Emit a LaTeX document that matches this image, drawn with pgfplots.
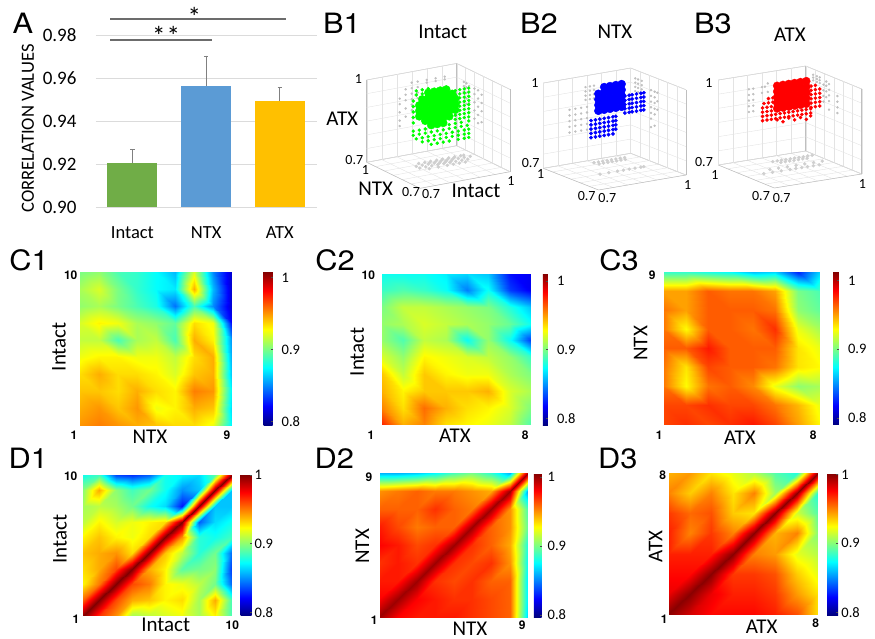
\documentclass[border=0pt]{standalone}
\usepackage{fontspec}
\setmainfont{Carlito}
\newfontfamily\hel{TeX Gyre Heros}
\usepackage{pgfplots}
\pgfplotsset{compat=1.18}
\definecolor{bgreen}{HTML}{70AD47}
\definecolor{bblue}{HTML}{5B9BD5}
\definecolor{byellow}{HTML}{FFC000}
\newcommand{\fs}[1]{\fontsize{#1}{#1}\selectfont}
\newcommand{\PL}[3]{\node[inner sep=0pt,font=\hel\fs{28},xscale=1.1] at (#1pt,-#2pt) {#3};}
\newcommand{\BT}[3]{\node[inner sep=0pt,font=\hel\bfseries\fs{12}] at (#1pt,-#2pt) {#3};}
\newcommand{\LX}[3]{\node[inner sep=0pt,font=\fs{21}] at (#1pt,-#2pt) {#3};}
\newcommand{\LY}[3]{\node[inner sep=0pt,font=\fs{21},rotate=90] at (#1pt,-#2pt) {#3};}
\newcommand{\TK}[3]{\node[inner sep=0pt,font=\fs{14}] at (#1pt,-#2pt) {#3};}
\pgfplotsset{
 box3d/.style={xmin=.7,xmax=1,ymin=.7,ymax=1,zmin=.7,zmax=1,clip=false,
  xtick={.7,.75,.8,.85,.9,.95,1},ytick={.7,.75,.8,.85,.9,.95,1},ztick={.7,.75,.8,.85,.9,.95,1},
  xticklabel=\empty,yticklabel=\empty,zticklabel=\empty,grid=major,
  grid style={gray!22,line width=.4pt},tick style={draw=none},axis line style={gray!50,line width=.5pt}},
 gm/.style={only marks,mark=*,mark size=1pt,color=gray!50,mark options={draw=none}},
 gf/.style={only marks,mark=*,mark size=1.5pt,color=gray!38,mark options={draw=none}},
 hm/.style={scale only axis,view={0}{90},xtick=\empty,ytick=\empty,ztick=\empty,
  axis line style={draw=none},colormap/jet,colorbar,enlargelimits=false},
 cb/.style n args={4}{colorbar style={at={(parent axis.north east)},anchor=north west,xshift=#1pt,width=#2pt,height=#3pt,
  ytick={.8,.9,1},yticklabels={0.8,0.9,1},ytick pos=right,axis line style={draw=none},
  major tick length=2pt,tick style={black!70,line width=.3pt},
  yticklabel style={font=\fs{14.5},inner xsep=0pt,xshift=#4pt}}},
}
\begin{document}
\begin{tikzpicture}
\path (0pt,0pt) rectangle (875pt,-638pt);
% ---------- A
\begin{axis}[at={(96pt,-207pt)},anchor=south west,scale only axis,width=221pt,height=171.7pt,
 xmin=-.494,xmax=2.505,ymin=.9,ymax=.98,clip=false,ymajorgrids,grid style={gray!28,line width=.7pt},
 axis line style={draw=none},tick style={draw=none},ytick={.90,.92,.94,.96,.98},xtick={0,1,2},
 xticklabels={Intact,NTX,ATX},
 xticklabel style={font=\fs{18.5},yshift=-12pt},xtick pos=bottom,
 yticklabel style={font=\fs{19},xshift=-16pt,/pgf/number format/fixed,/pgf/number format/fixed zerofill,/pgf/number format/precision=2,/pgf/number format/assume math mode=true},
 ylabel={CORRELATION VALUES},ylabel style={at={(axis description cs:-.308,.458)},anchor=center,font=\fs{18.6}},
 ybar,bar width=50pt,bar shift=0pt]
\addplot[fill=bgreen,draw=none,error bars/.cd,y dir=plus,y explicit,error bar style={gray,line width=.8pt},error mark options={rotate=90,gray,mark size=2.2pt}] coordinates {(0,.9205) +- (0,.0065)};
\addplot[fill=bblue,draw=none,error bars/.cd,y dir=plus,y explicit,error bar style={gray,line width=.8pt},error mark options={rotate=90,gray,mark size=2.2pt}] coordinates {(1,.9565) +- (0,.014)};
\addplot[fill=byellow,draw=none,error bars/.cd,y dir=plus,y explicit,error bar style={gray,line width=.8pt},error mark options={rotate=90,gray,mark size=2.2pt}] coordinates {(2,.9495) +- (0,.0063)};
\addplot[sharp plot,gray!85!black,line width=1.3pt,forget plot] coordinates {(-.304,.9778)(1.08,.9778)};
\addplot[sharp plot,gray!85!black,line width=1.3pt,forget plot] coordinates {(-.304,.9876)(2.083,.9876)};
\end{axis}
\node[inner sep=0pt,font=\fs{27}] at (194.3pt,-17pt) {*};
\node[inner sep=0pt,font=\fs{27}] at (166pt,-36pt) {*\kern1pt*};
\PL{23}{23}{A}
% ---------- B1
\begin{axis}[box3d,at={(366.7pt,-188.3pt)},anchor=south west,x={(300pt,55.3pt)},y={(-177.7pt,86.7pt)},z={(0pt,274.3pt)}]
\addplot3[gf] coordinates {
(.80,.89,.7)(.82,.89,.7)(.84,.89,.7)(.86,.89,.7)(.88,.89,.7)(.90,.89,.7)(.92,.89,.7)(.94,.89,.7)(.96,.89,.7)(.98,.89,.7)
(.82,.91,.7)(.84,.91,.7)(.86,.91,.7)(.88,.91,.7)(.90,.91,.7)(.92,.91,.7)(.94,.91,.7)(.96,.91,.7)(.97,.91,.7)
(.80,.87,.7)(.82,.87,.7)(.84,.87,.7)(.86,.87,.7)(.88,.87,.7)(.90,.87,.7)(.92,.87,.7)(.94,.87,.7)(.96,.87,.7)
(.82,.85,.7)(.85,.85,.7)(.88,.85,.7)(.90,.85,.7)(.92,.85,.7)(.94,.85,.7)
(.87,.90,.7)(.89,.90,.7)(.91,.90,.7)(.85,.90,.7)(.93,.90,.7)(.87,.88,.7)(.89,.88,.7)(.91,.88,.7)
};
\addplot3[gm] coordinates {
(.81,1,.81)(.81,1,.83)(.81,1,.86)(.81,1,.89)(.81,1,.91)(.83,1,.84)(.83,1,.87)(.83,1,.90)(.83,1,.92)(.83,1,.94)
(.85,1,.86)(.85,1,.88)(.85,1,.90)(.85,1,.92)(.85,1,.94)(.85,1,.96)(.87,1,.90)(.87,1,.92)(.87,1,.94)(.87,1,.96)
(.90,1,.95)(.90,1,.96)(.93,1,.95)(.93,1,.96)(.96,1,.95)(.96,1,.96)
(1,.96,.87)(1,.96,.89)(1,.96,.91)(1,.96,.93)(1,.96,.945)(1,.945,.87)(1,.945,.89)(1,.945,.91)(1,.945,.93)(1,.945,.945)
(1,.93,.88)(1,.93,.90)(1,.93,.92)(1,.93,.94)(1,.90,.83)(1,.90,.86)(1,.90,.89)(1,.90,.92)(1,.90,.94)
(1,.88,.82)(1,.88,.85)(1,.88,.88)(1,.88,.91)(1,.88,.94)(1,.86,.83)(1,.86,.87)(1,.86,.90)(1,.86,.93)
};
\addplot3[only marks,mark=*,mark size=4pt,color=green,mark options={draw=none}] coordinates {
(.84,.89,.96)(.86,.89,.96)(.88,.89,.96)(.90,.89,.96)
(.82,.89,.94)(.84,.89,.94)(.86,.89,.94)(.88,.89,.94)(.90,.89,.94)(.92,.89,.94)
(.81,.89,.92)(.83,.89,.92)(.85,.89,.92)(.87,.89,.92)(.89,.89,.92)(.91,.89,.92)(.93,.89,.92)
(.81,.89,.90)(.83,.89,.90)(.85,.89,.90)(.87,.89,.90)(.89,.89,.90)(.91,.89,.90)(.93,.89,.90)
(.81,.89,.88)(.83,.89,.88)(.85,.89,.88)(.87,.89,.88)(.89,.89,.88)(.91,.89,.88)(.93,.89,.88)
(.83,.89,.86)(.85,.89,.86)(.87,.89,.86)(.89,.89,.86)(.91,.89,.86)
(.85,.89,.84)(.87,.89,.84)(.89,.89,.84)
};
\addplot3[only marks,mark=*,mark size=1.5pt,color=green,mark options={draw=none}] coordinates {
(.85,.89,.77)(.87,.89,.77)(.89,.89,.77)(.91,.89,.77)(.94,.89,.77)(.96,.89,.77)(.975,.89,.77)
(.82,.89,.785)(.84,.89,.785)(.86,.89,.785)(.88,.89,.785)(.90,.89,.785)(.92,.89,.785)(.94,.89,.785)(.96,.89,.785)(.975,.89,.785)
(.80,.89,.80)(.82,.89,.80)(.84,.89,.80)(.86,.89,.80)(.88,.89,.80)(.90,.89,.80)(.92,.89,.80)(.94,.89,.80)(.96,.89,.80)(.975,.89,.80)
(.79,.89,.815)(.81,.89,.815)(.83,.89,.815)(.85,.89,.815)(.87,.89,.815)(.89,.89,.815)(.91,.89,.815)(.93,.89,.815)(.95,.89,.815)(.97,.89,.815)
(.79,.89,.83)(.81,.89,.83)(.83,.89,.83)(.91,.89,.83)(.93,.89,.83)(.95,.89,.83)(.975,.89,.83)
(.93,.89,.845)(.945,.89,.845)(.96,.89,.845)(.975,.89,.845)(.93,.89,.86)(.945,.89,.86)(.96,.89,.86)(.975,.89,.86)
(.945,.89,.875)(.96,.89,.875)(.975,.89,.875)(.945,.89,.89)(.96,.89,.89)(.975,.89,.89)
(.945,.89,.905)(.96,.89,.905)(.975,.89,.905)(.945,.89,.92)(.96,.89,.92)(.975,.89,.92)
(.93,.89,.935)(.945,.89,.935)(.96,.89,.935)(.975,.89,.935)(.93,.89,.95)(.945,.89,.95)(.96,.89,.95)(.975,.89,.95)
(.80,.89,.96)(.82,.89,.96)(.80,.89,.975)(.82,.89,.975)(.84,.89,.975)
(.79,.89,.86)(.79,.89,.88)(.79,.89,.90)(.79,.89,.92)(.79,.89,.94)
};
\end{axis}
% ---------- B2
\begin{axis}[box3d,at={(543.3pt,-190pt)},anchor=south west,x={(291.3pt,50pt)},y={(-184.3pt,72.3pt)},z={(0pt,284.3pt)}]
\addplot3[gf] coordinates {
(.855,.97,.7)(.87,.97,.7)(.885,.97,.7)(.90,.97,.7)(.915,.97,.7)(.93,.97,.7)(.945,.97,.7)(.96,.97,.7)
(.86,.95,.7)(.875,.95,.7)(.89,.95,.7)(.905,.95,.7)(.92,.95,.7)(.935,.95,.7)(.95,.95,.7)
(.80,.85,.7)(.83,.85,.7)(.86,.85,.7)(.88,.85,.7)(.90,.85,.7)(.92,.85,.7)(.94,.85,.7)(.95,.85,.7)
};
\addplot3[gm] coordinates {
(.79,1,.81)(.79,1,.83)(.79,1,.85)(.79,1,.87)(.79,1,.89)(.81,1,.81)(.81,1,.83)(.81,1,.85)(.81,1,.87)(.81,1,.89)
(.83,1,.81)(.83,1,.83)(.83,1,.85)(.83,1,.87)(.83,1,.89)(.85,1,.81)(.85,1,.83)(.85,1,.85)(.85,1,.87)(.85,1,.89)
(.845,1,.915)(.845,1,.93)(.845,1,.945)(.845,1,.96)(.86,1,.915)(.86,1,.93)(.86,1,.945)(.86,1,.96)(.874,1,.915)(.874,1,.93)(.874,1,.945)(.874,1,.96)
(1,.975,.925)(1,.975,.94)(1,.975,.955)(1,.975,.97)(1,.96,.925)(1,.96,.94)(1,.96,.955)(1,.96,.97)(1,.94,.925)(1,.94,.94)(1,.94,.955)(1,.94,.97)
(1,.89,.82)(1,.89,.85)(1,.89,.87)(1,.89,.89)(1,.89,.91)(1,.89,.93)(1,.89,.95)(1,.87,.83)(1,.87,.87)(1,.87,.89)(1,.87,.91)(1,.87,.93)(1,.87,.95)(1,.855,.89)(1,.855,.92)(1,.855,.95)
};
\addplot3[only marks,mark=*,mark size=4pt,color=blue,mark options={draw=none}] coordinates {
(.89,.97,.96)(.91,.97,.96)(.93,.97,.96)(.95,.97,.96)
(.87,.97,.94)(.89,.97,.94)(.91,.97,.94)(.93,.97,.94)(.95,.97,.94)
(.87,.97,.92)(.89,.97,.92)(.91,.97,.92)(.93,.97,.92)(.95,.97,.92)
(.87,.97,.90)(.89,.97,.90)(.91,.97,.90)(.93,.97,.90)(.95,.97,.90)
(.87,.97,.88)(.89,.97,.88)(.91,.97,.88)(.93,.97,.88)(.95,.97,.88)
};
\addplot3[only marks,mark=*,mark size=1.7pt,color=blue,mark options={draw=none}] coordinates {
(.885,.85,.90)(.885,.85,.915)(.885,.85,.93)(.885,.85,.945)(.885,.85,.96)
(.90,.85,.90)(.91,.85,.90)(.925,.85,.90)(.94,.85,.90)(.95,.85,.90)
(.90,.85,.915)(.91,.85,.915)(.925,.85,.915)(.94,.85,.915)(.95,.85,.915)
(.90,.85,.93)(.91,.85,.93)(.925,.85,.93)(.94,.85,.93)(.95,.85,.93)
(.90,.85,.945)(.91,.85,.945)(.925,.85,.945)(.94,.85,.945)(.95,.85,.945)
(.90,.85,.96)(.91,.85,.96)(.925,.85,.96)(.94,.85,.96)(.95,.85,.96)
(.845,.97,.79)(.86,.97,.79)(.875,.97,.79)(.89,.97,.79)(.905,.97,.79)(.92,.97,.79)
(.845,.97,.805)(.86,.97,.805)(.875,.97,.805)(.89,.97,.805)(.905,.97,.805)(.92,.97,.805)(.93,.97,.805)
(.845,.97,.82)(.86,.97,.82)(.875,.97,.82)(.89,.97,.82)(.905,.97,.82)(.92,.97,.82)(.93,.97,.82)
(.845,.97,.835)(.86,.97,.835)(.875,.97,.835)(.89,.97,.835)(.905,.97,.835)(.92,.97,.835)(.93,.97,.835)
(.845,.97,.85)(.86,.97,.85)(.875,.97,.85)(.89,.97,.85)(.905,.97,.85)(.92,.97,.85)(.93,.97,.85)
};
\end{axis}
% ---------- B3
\begin{axis}[box3d,at={(718.3pt,-188pt)},anchor=south west,x={(291.3pt,46.7pt)},y={(-186.7pt,76.7pt)},z={(0pt,283.3pt)}]
\addplot3[gf] coordinates {
(.855,.95,.7)(.87,.95,.7)(.885,.95,.7)(.90,.95,.7)(.915,.95,.7)(.93,.95,.7)(.945,.95,.7)(.96,.95,.7)(.975,.95,.7)(.99,.95,.7)
(.87,.93,.7)(.885,.93,.7)(.90,.93,.7)(.915,.93,.7)(.93,.93,.7)(.945,.93,.7)(.96,.93,.7)
(.76,.85,.7)(.79,.85,.7)(.82,.85,.7)(.85,.85,.7)(.87,.85,.7)(.89,.85,.7)(.91,.85,.7)(.93,.85,.7)(.95,.85,.7)
(.80,.88,.7)(.83,.88,.7)(.86,.88,.7)(.89,.88,.7)(.92,.88,.7)(.95,.88,.7)(.98,.88,.7)
};
\addplot3[gm] coordinates {
(.805,1,.87)(.805,1,.89)(.805,1,.91)(.805,1,.93)(.805,1,.95)(.82,1,.87)(.82,1,.89)(.82,1,.91)(.82,1,.93)(.82,1,.95)
(.85,1,.93)(.85,1,.95)(.86,1,.95)(.87,1,.93)(.87,1,.96)
(1,.96,.96)(1,.96,.97)(1,.96,.98)(1,.94,.96)(1,.94,.97)(1,.94,.98)(1,.925,.96)(1,.925,.97)(1,.925,.98)
(1,.905,.90)(1,.905,.92)(1,.905,.94)(1,.905,.96)(1,.89,.92)(1,.89,.94)(1,.89,.96)(1,.89,.975)(1,.875,.88)(1,.875,.91)(1,.875,.93)(1,.875,.95)(1,.875,.97)
(1,.83,.88)(1,.83,.90)(1,.83,.92)(1,.83,.94)
};
\addplot3[only marks,mark=*,mark size=4pt,color=red,mark options={draw=none}] coordinates {
(.87,.95,.965)(.89,.95,.965)(.91,.95,.965)(.93,.95,.965)(.95,.95,.965)(.97,.95,.965)
(.87,.95,.945)(.89,.95,.945)(.91,.95,.945)(.93,.95,.945)(.95,.95,.945)(.97,.95,.945)
(.87,.95,.925)(.89,.95,.925)(.91,.95,.925)(.93,.95,.925)(.95,.95,.925)(.97,.95,.925)
(.87,.95,.905)(.89,.95,.905)(.91,.95,.905)(.93,.95,.905)(.95,.95,.905)(.97,.95,.905)
(.87,.95,.885)(.89,.95,.885)(.91,.95,.885)(.93,.95,.885)(.95,.95,.885)(.97,.95,.885)
};
\addplot3[only marks,mark=*,mark size=1.6pt,color=red,mark options={draw=none}] coordinates {
(.82,.95,.85)(.835,.95,.85)(.85,.95,.85)(.865,.95,.85)(.88,.95,.85)(.895,.95,.85)(.91,.95,.85)(.925,.95,.85)(.94,.95,.85)(.955,.95,.85)(.97,.95,.85)(.985,.95,.85)
(.82,.95,.865)(.835,.95,.865)(.85,.95,.865)(.865,.95,.865)(.88,.95,.865)(.895,.95,.865)(.91,.95,.865)(.925,.95,.865)(.94,.95,.865)(.955,.95,.865)(.97,.95,.865)(.985,.95,.865)
(.82,.95,.88)(.835,.95,.88)(.85,.95,.88)(.82,.95,.895)(.835,.95,.895)(.85,.95,.895)(.825,.95,.91)(.84,.95,.91)(.855,.95,.91)(.84,.95,.925)(.855,.95,.925)
(.87,.95,.845)(.89,.95,.835)(.91,.95,.845)(.93,.95,.835)(.95,.95,.84)(.97,.95,.83)(.985,.95,.84)
(.935,.87,.90)(.95,.87,.90)(.965,.87,.90)(.935,.87,.915)(.95,.87,.915)(.965,.87,.915)
(.935,.87,.93)(.95,.87,.93)(.965,.87,.93)(.935,.87,.945)(.95,.87,.945)(.965,.87,.945)
(.935,.87,.96)(.95,.87,.96)(.965,.87,.96)(.935,.87,.975)(.95,.87,.975)
};
\end{axis}
% texts of B
\PL{342}{23}{B1}\PL{539}{23}{B2}\PL{713}{23}{B3}
\LX{442.7}{31.7}{Intact}\LX{615}{31.7}{NTX}\LX{790}{34.3}{ATX}
\LX{342.3}{119}{ATX}\LX{375.7}{188.3}{NTX}\LX{476}{190.7}{Intact}
\TK{358.3}{79.3}{1}\TK{354.3}{160}{0.7}\TK{365.3}{170}{1}\TK{411}{191.7}{0.7}\TK{431}{194}{0.7}\TK{511}{181}{1}
\TK{535}{83.3}{1}\TK{530.7}{163.3}{0.7}\TK{540.7}{174.3}{1}\TK{586.7}{196}{0.7}\TK{607.3}{198.3}{0.7}\TK{687.7}{185}{1}
\TK{709}{83.3}{1}\TK{704}{162.5}{0.7}\TK{715}{174.5}{1}\TK{761}{196}{0.7}\TK{781.7}{198.3}{0.7}\TK{862.3}{184}{1}
% ---------- C1
\begin{axis}[hm,at={(80pt,-425pt)},anchor=south west,width=151.7pt,height=153.3pt,xmin=1,xmax=9,ymin=1,ymax=10,
 point meta min=.7945,point meta max=1.008,cb={23.3}{9}{153.7}{9}]
\addplot3[surf,shader=interp,mesh/cols=9] coordinates {
(1,1,.95)(2,1,.955)(3,1,.95)(4,1,.945)(5,1,.94)(6,1,.935)(7,1,.935)(8,1,.925)(9,1,.87)
(1,2,.945)(2,2,.95)(3,2,.94)(4,2,.95)(5,2,.925)(6,2,.93)(7,2,.945)(8,2,.94)(9,2,.865)
(1,3,.94)(2,3,.94)(3,3,.935)(4,3,.945)(5,3,.935)(6,3,.93)(7,3,.955)(8,3,.95)(9,3,.87)
(1,4,.935)(2,4,.945)(3,4,.935)(4,4,.935)(5,4,.93)(6,4,.92)(7,4,.94)(8,4,.945)(9,4,.86)
(1,5,.925)(2,5,.93)(3,5,.93)(4,5,.925)(5,5,.925)(6,5,.915)(7,5,.935)(8,5,.945)(9,5,.855)
(1,6,.915)(2,6,.915)(3,6,.89)(4,6,.91)(5,6,.915)(6,6,.89)(7,6,.945)(8,6,.93)(9,6,.85)
(1,7,.92)(2,7,.93)(3,7,.925)(4,7,.91)(5,7,.905)(6,7,.895)(7,7,.935)(8,7,.925)(9,7,.82)
(1,8,.905)(2,8,.91)(3,8,.90)(4,8,.89)(5,8,.88)(6,8,.845)(7,8,.89)(8,8,.85)(9,8,.81)
(1,9,.91)(2,9,.92)(3,9,.90)(4,9,.885)(5,9,.875)(6,9,.87)(7,9,.945)(8,9,.86)(9,9,.81)
(1,10,.90)(2,10,.905)(3,10,.89)(4,10,.885)(5,10,.875)(6,10,.86)(7,10,.92)(8,10,.85)(9,10,.81)
};
\end{axis}
% ---------- C2
\begin{axis}[hm,at={(381.7pt,-424.3pt)},anchor=south west,width=149.3pt,height=151pt,xmin=1,xmax=8,ymin=1,ymax=10,
 point meta min=.79,point meta max=1.011,cb={3.3}{5}{151.7}{9}]
\addplot3[surf,shader=interp,mesh/cols=8] coordinates {
(1,1,.975)(2,1,.945)(3,1,.955)(4,1,.935)(5,1,.93)(6,1,.925)(7,1,.915)(8,1,.89)
(1,2,.955)(2,2,.935)(3,2,.96)(4,2,.945)(5,2,.935)(6,2,.93)(7,2,.92)(8,2,.90)
(1,3,.945)(2,3,.93)(3,3,.94)(4,3,.94)(5,3,.94)(6,3,.945)(7,3,.92)(8,3,.91)
(1,4,.94)(2,4,.915)(3,4,.94)(4,4,.93)(5,4,.925)(6,4,.925)(7,4,.91)(8,4,.90)
(1,5,.92)(2,5,.905)(3,5,.93)(4,5,.925)(5,5,.92)(6,5,.915)(7,5,.905)(8,5,.885)
(1,6,.905)(2,6,.89)(3,6,.915)(4,6,.91)(5,6,.875)(6,6,.905)(7,6,.875)(8,6,.83)
(1,7,.905)(2,7,.91)(3,7,.92)(4,7,.915)(5,7,.91)(6,7,.905)(7,7,.895)(8,7,.875)
(1,8,.90)(2,8,.915)(3,8,.915)(4,8,.91)(5,8,.905)(6,8,.90)(7,8,.88)(8,8,.86)
(1,9,.885)(2,9,.89)(3,9,.885)(4,9,.875)(5,9,.845)(6,9,.875)(7,9,.83)(8,9,.815)
(1,10,.875)(2,10,.875)(3,10,.875)(4,10,.87)(5,10,.865)(6,10,.86)(7,10,.82)(8,10,.815)
};
\end{axis}
% ---------- C3
\begin{axis}[hm,at={(663.3pt,-424.3pt)},anchor=south west,width=156.7pt,height=152.6pt,xmin=1,xmax=8,ymin=1,ymax=9,
 point meta min=.79,point meta max=1.013,cb={4.7}{5.6}{153}{9}]
\addplot3[surf,shader=interp,mesh/cols=8] coordinates {
(1,1,.97)(2,1,.975)(3,1,.97)(4,1,.975)(5,1,.98)(6,1,.97)(7,1,.95)(8,1,.93)
(1,2,.97)(2,2,.97)(3,2,.975)(4,2,.97)(5,2,.97)(6,2,.96)(7,2,.945)(8,2,.925)
(1,3,.96)(2,3,.93)(3,3,.96)(4,3,.965)(5,3,.955)(6,3,.925)(7,3,.905)(8,3,.91)
(1,4,.96)(2,4,.935)(3,4,.97)(4,4,.965)(5,4,.965)(6,4,.96)(7,4,.935)(8,4,.93)
(1,5,.965)(2,5,.965)(3,5,.98)(4,5,.965)(5,5,.965)(6,5,.965)(7,5,.935)(8,5,.925)
(1,6,.96)(2,6,.93)(3,6,.965)(4,6,.965)(5,6,.96)(6,6,.975)(7,6,.925)(8,6,.91)
(1,7,.96)(2,7,.95)(3,7,.965)(4,7,.965)(5,7,.965)(6,7,.96)(7,7,.905)(8,7,.895)
(1,8,.95)(2,8,.95)(3,8,.965)(4,8,.96)(5,8,.96)(6,8,.95)(7,8,.90)(8,8,.89)
(1,9,.885)(2,9,.885)(3,9,.88)(4,9,.875)(5,9,.86)(6,9,.865)(7,9,.825)(8,9,.865)
};
\end{axis}
\PL{29}{260}{C1}\PL{335}{260}{C2}\PL{619}{260}{C3}
\LY{59}{346.7}{Intact}\LX{150}{436.7}{NTX}\BT{70.7}{275}{10}\BT{74}{435}{1}\BT{227}{435}{9}
\LY{357.3}{351.7}{Intact}\LX{455}{436}{ATX}\BT{368.3}{275}{10}\BT{371}{435}{1}\BT{525.3}{435}{8}
\LY{640.7}{343.3}{NTX}\LX{740}{437.7}{ATX}\BT{652.3}{275}{9}\BT{659.3}{435}{1}\BT{813.3}{435}{8}
% ---------- D1
\begin{axis}[hm,at={(82.7pt,-615.7pt)},anchor=south west,width=149pt,height=141pt,xmin=1,xmax=10,ymin=1,ymax=10,
 point meta min=.795,point meta max=1.0,cb={0.3}{11}{141}{3}]
\addplot3[surf,shader=interp,mesh/cols=10] coordinates {
(10,1,.885)(9,1,.925)(8,1,.905)(7,1,.92)(6,1,.915)(5,1,.91)(4,1,.905)(3,1,.945)(2,1,.965)(1,1,1)
(10,2,.885)(9,2,.94)(8,2,.905)(7,2,.93)(6,2,.925)(5,2,.935)(4,2,.94)(3,2,.96)(2,2,1)(1,2,.955)
(10,3,.84)(9,3,.895)(8,3,.91)(7,3,.92)(6,3,.925)(5,3,.95)(4,3,.96)(3,3,1)(2,3,.95)(1,3,.925)
(10,4,.83)(9,4,.90)(8,4,.895)(7,4,.89)(6,4,.925)(5,4,.94)(4,4,1)(3,4,.96)(2,4,.94)(1,4,.93)
(10,5,.84)(9,5,.895)(8,5,.88)(7,5,.91)(6,5,.935)(5,5,1)(4,5,.93)(3,5,.945)(2,5,.94)(1,5,.935)
(10,6,.885)(9,6,.875)(8,6,.88)(7,6,.945)(6,6,1)(5,6,.93)(4,6,.92)(3,6,.925)(2,6,.935)(1,6,.925)
(10,7,.875)(9,7,.865)(8,7,.84)(7,7,1)(6,7,.93)(5,7,.925)(4,7,.92)(3,7,.915)(2,7,.925)(1,7,.91)
(10,8,.86)(9,8,.86)(8,8,1)(7,8,.825)(6,8,.865)(5,8,.875)(4,8,.895)(3,8,.905)(2,8,.91)(1,8,.905)
(10,9,.86)(9,9,1)(8,9,.86)(7,9,.85)(6,9,.875)(5,9,.895)(4,9,.885)(3,9,.90)(2,9,.94)(1,9,.90)
(10,10,1)(9,10,.89)(8,10,.865)(7,10,.87)(6,10,.875)(5,10,.84)(4,10,.83)(3,10,.835)(2,10,.885)(1,10,.875)
};
\end{axis}
% ---------- D2
\begin{axis}[hm,at={(379.3pt,-617pt)},anchor=south west,width=149pt,height=144pt,xmin=1,xmax=9,ymin=1,ymax=9,
 point meta min=.797,point meta max=1.006,cb={-3}{7.7}{144}{6}]
\addplot3[surf,shader=interp,mesh/cols=9] coordinates {
(9,1,.865)(8,1,.96)(7,1,.965)(6,1,.97)(5,1,.975)(4,1,.975)(3,1,.975)(2,1,.98)(1,1,1)
(9,2,.87)(8,2,.96)(7,2,.965)(6,2,.97)(5,2,.97)(4,2,.975)(3,2,.98)(2,2,1)(1,2,.98)
(9,3,.87)(8,3,.96)(7,3,.96)(6,3,.97)(5,3,.965)(4,3,.97)(3,3,1)(2,3,.975)(1,3,.975)
(9,4,.875)(8,4,.95)(7,4,.97)(6,4,.965)(5,4,.97)(4,4,1)(3,4,.97)(2,4,.975)(1,4,.97)
(9,5,.88)(8,5,.945)(7,5,.96)(6,5,.97)(5,5,1)(4,5,.97)(3,5,.965)(2,5,.975)(1,5,.98)
(9,6,.895)(8,6,.95)(7,6,.96)(6,6,1)(5,6,.96)(4,6,.96)(3,6,.955)(2,6,.965)(1,6,.975)
(9,7,.89)(8,7,.95)(7,7,1)(6,7,.955)(5,7,.96)(4,7,.97)(3,7,.96)(2,7,.96)(1,7,.96)
(9,8,.855)(8,8,1)(7,8,.945)(6,8,.95)(5,8,.955)(4,8,.955)(3,8,.96)(2,8,.955)(1,8,.95)
(9,9,1)(8,9,.86)(7,9,.885)(6,9,.90)(5,9,.89)(4,9,.875)(3,9,.865)(2,9,.86)(1,9,.86)
};
\end{axis}
% ---------- D3
\begin{axis}[hm,at={(668.3pt,-614pt)},anchor=south west,width=150pt,height=141pt,xmin=1,xmax=8,ymin=1,ymax=8,
 point meta min=.796,point meta max=1.002,cb={0.4}{11}{142}{3}]
\addplot3[surf,shader=interp,mesh/cols=8] coordinates {
(8,1,.93)(7,1,.96)(6,1,.97)(5,1,.975)(4,1,.975)(3,1,.975)(2,1,.985)(1,1,1)
(8,2,.93)(7,2,.945)(6,2,.965)(5,2,.97)(4,2,.97)(3,2,.98)(2,2,1)(1,2,.98)
(8,3,.92)(7,3,.935)(6,3,.96)(5,3,.965)(4,3,.965)(3,3,1)(2,3,.975)(1,3,.975)
(8,4,.91)(7,4,.92)(6,4,.945)(5,4,.95)(4,4,1)(3,4,.97)(2,4,.97)(1,4,.97)
(8,5,.90)(7,5,.95)(6,5,.94)(5,5,1)(4,5,.95)(3,5,.965)(2,5,.95)(1,5,.97)
(8,6,.89)(7,6,.915)(6,6,1)(5,6,.93)(4,6,.935)(3,6,.96)(2,6,.955)(1,6,.965)
(8,7,.88)(7,7,1)(6,7,.905)(5,7,.95)(4,7,.93)(3,7,.95)(2,7,.935)(1,7,.95)
(8,8,1)(7,8,.88)(6,8,.89)(5,8,.91)(4,8,.92)(3,8,.93)(2,8,.945)(1,8,.94)
};
\end{axis}
\PL{28.3}{458.7}{D1}\PL{334.3}{458.7}{D2}\PL{617.7}{458.7}{D3}
\LY{60}{539}{Intact}\LX{165.7}{624.7}{Intact}\BT{70.7}{475.7}{10}\BT{76}{619}{1}\BT{232.3}{624.7}{10}
\LY{362.3}{546.3}{NTX}\LX{470}{628.5}{NTX}\BT{369}{477.3}{9}\BT{374.3}{620.3}{1}\BT{522.3}{625.3}{9}
\LY{655.7}{546.3}{ATX}\LX{761.7}{626.3}{ATX}\BT{662.7}{474.7}{8}\BT{664.3}{619.7}{1}\BT{815.7}{623}{8}
\end{tikzpicture}
\end{document}
